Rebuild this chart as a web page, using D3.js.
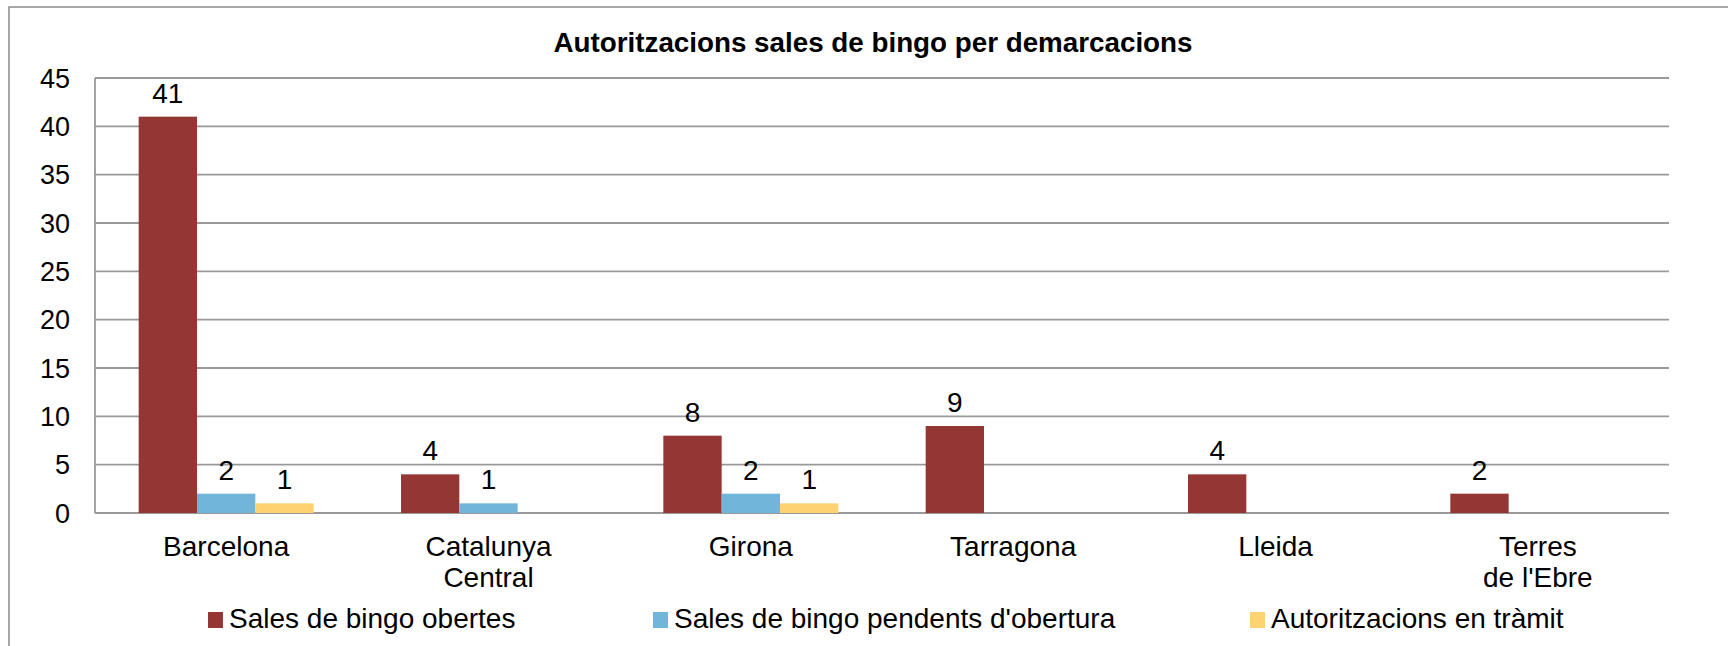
<!DOCTYPE html>
<html>
<head>
<meta charset="utf-8">
<script src="https://cdn.jsdelivr.net/npm/d3@7"></script>
<style>
  body { margin: 0; background: #fff; }
  text { font-family: Arial, "Liberation Sans", sans-serif; fill: #000; }
</style>
</head>
<body>
<svg id="chart"></svg>
<script>
var categories = [["Barcelona"], ["Catalunya", "Central"], ["Girona"], ["Tarragona"], ["Lleida"], ["Terres", "de l'Ebre"]];
var seriesNames = ["Sales de bingo obertes", "Sales de bingo pendents d'obertura", "Autoritzacions en tràmit"];
var seriesColors = ["#943634", "#71b5db", "#ffd271"];
var obertes = [41, 4, 8, 9, 4, 2];
var pendents = [2, 1, 2, 0, 0, 0];
var enTramit = [1, 0, 1, 0, 0, 0];
var yTicks = [0, 5, 10, 15, 20, 25, 30, 35, 40, 45];

var W = 1728, H = 646;
var plotL = 95, plotR = 1669, plotT = 78, plotB = 513;
var fs = 28;

var svg = d3.select('#chart')
  .attr('width', W)
  .attr('height', H);

// outer frame (right and bottom edges fall outside the picture)
svg.append('rect')
  .attr('x', 9).attr('y', 7)
  .attr('width', 1760).attr('height', 700)
  .attr('fill', 'none')
  .attr('stroke', '#8c8c8c')
  .attr('stroke-width', 1.5);

svg.append('text')
  .attr('x', 873).attr('y', 52)
  .attr('text-anchor', 'middle')
  .attr('font-weight', 'bold')
  .attr('font-size', 28)
  .attr('textLength', 639)
  .attr('lengthAdjust', 'spacingAndGlyphs')
  .text('Autoritzacions sales de bingo per demarcacions');

var y = d3.scaleLinear().domain([0, 45]).range([plotB, plotT]);

var catKeys = categories.map(function(c) { return c.join(' '); });
var x0 = d3.scaleBand().domain(catKeys).range([plotL, plotR]);
var x1 = d3.scaleBand().domain(seriesNames).range([-87.5, 87.5]);

// gridlines
svg.append('g')
  .selectAll('line')
  .data(yTicks)
  .enter()
  .append('line')
  .attr('x1', plotL).attr('x2', plotR)
  .attr('y1', function(d) { return y(d); })
  .attr('y2', function(d) { return y(d); })
  .attr('stroke', '#999')
  .attr('stroke-width', 1.8);

svg.append('line')
  .attr('x1', plotL).attr('x2', plotL)
  .attr('y1', plotT).attr('y2', plotB)
  .attr('stroke', '#999')
  .attr('stroke-width', 1.8);

// y tick labels
svg.append('g')
  .selectAll('text')
  .data(yTicks)
  .enter()
  .append('text')
  .attr('x', 70)
  .attr('y', function(d) { return y(d) + 9.5; })
  .attr('text-anchor', 'end')
  .attr('font-size', 27)
  .text(function(d) { return d; });

var series = [obertes, pendents, enTramit];
var bars = [];
series.forEach(function(vals, s) {
  vals.forEach(function(v, i) {
    if (v > 0) bars.push({ cat: catKeys[i], s: s, v: v });
  });
});

svg.append('g')
  .selectAll('rect')
  .data(bars)
  .enter()
  .append('rect')
  .attr('x', function(d) { return x0(d.cat) + x0.bandwidth() / 2 + x1(seriesNames[d.s]); })
  .attr('y', function(d) { return y(d.v); })
  .attr('width', x1.bandwidth())
  .attr('height', function(d) { return plotB - y(d.v); })
  .attr('fill', function(d) { return seriesColors[d.s]; });

svg.append('g')
  .selectAll('text')
  .data(bars)
  .enter()
  .append('text')
  .attr('x', function(d) { return x0(d.cat) + x0.bandwidth() / 2 + x1(seriesNames[d.s]) + x1.bandwidth() / 2; })
  .attr('y', function(d) { return y(d.v) - 14; })
  .attr('text-anchor', 'middle')
  .attr('font-size', fs)
  .text(function(d) { return d.v; });

// category labels
var catSel = svg.append('g')
  .selectAll('text')
  .data(categories)
  .enter()
  .append('text')
  .attr('text-anchor', 'middle')
  .attr('font-size', fs)
  .attr('transform', function(d, i) { return 'translate(' + (x0(catKeys[i]) + x0.bandwidth() / 2) + ',556)'; });

catSel.selectAll('tspan')
  .data(function(d) { return d; })
  .enter()
  .append('tspan')
  .attr('x', 0)
  .attr('y', function(d, j) { return j * 31; })
  .text(function(d) { return d; });

// legend
var legendX = [208, 653, 1250];
var legend = svg.append('g')
  .selectAll('g')
  .data(seriesNames)
  .enter()
  .append('g')
  .attr('transform', function(d, i) { return 'translate(' + legendX[i] + ',612)'; });

legend.append('rect')
  .attr('width', 15).attr('height', 16)
  .attr('fill', function(d, i) { return seriesColors[i]; });

legend.append('text')
  .attr('x', 21).attr('y', 16)
  .attr('font-size', fs)
  .text(function(d) { return d; });
</script>
</body>
</html>
